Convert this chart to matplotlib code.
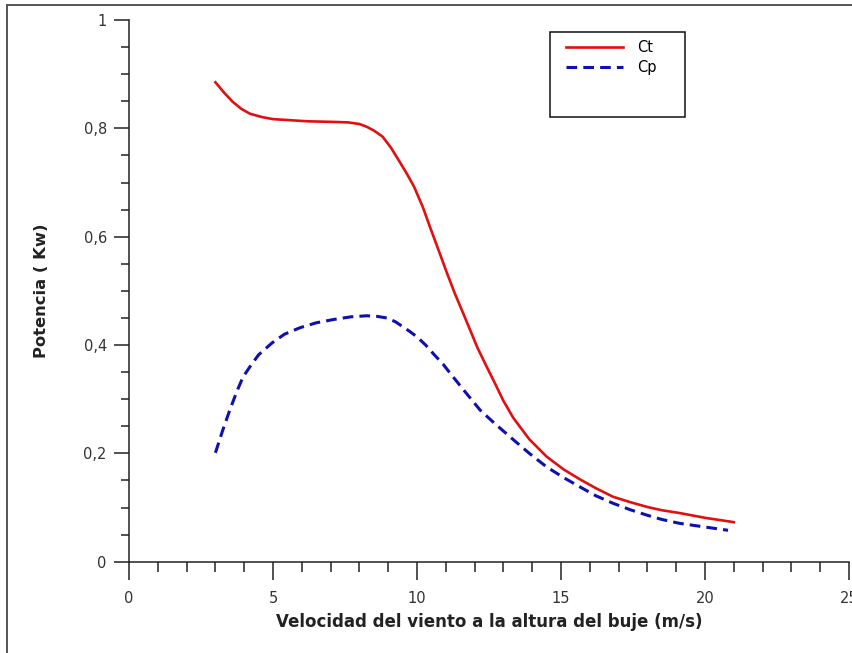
import matplotlib
matplotlib.use("Agg")
import matplotlib.pyplot as plt
from matplotlib.ticker import MultipleLocator, FuncFormatter
from matplotlib.patches import Rectangle
from matplotlib.lines import Line2D

plt.rcParams['font.family'] = ['DejaVu Sans']

# Data
ws_ct = [3.0, 3.3, 3.6, 3.9, 4.2, 4.6, 5.0, 5.6, 6.2, 7.0, 7.6, 8.0, 8.25, 8.5, 8.8,
         9.1, 9.4, 9.65, 9.9, 10.2, 10.45, 10.75, 11.04, 11.3, 11.6, 11.85, 12.1,
         12.4, 12.7, 13.0, 13.35, 13.9, 14.5, 15.1, 15.66, 16.2, 16.8, 17.4, 18.0,
         18.5, 19.1, 20.0, 20.5, 21.0]
ct = [0.885, 0.866, 0.849, 0.836, 0.827, 0.821, 0.817, 0.815, 0.813, 0.812, 0.811,
      0.808, 0.803, 0.796, 0.785, 0.764, 0.738, 0.716, 0.692, 0.655, 0.618, 0.575,
      0.533, 0.497, 0.459, 0.427, 0.395, 0.362, 0.330, 0.297, 0.265, 0.226, 0.194,
      0.170, 0.152, 0.136, 0.120, 0.110, 0.101, 0.095, 0.090, 0.081, 0.077, 0.073]

ws_cp = [3.0, 3.25, 3.5, 3.75, 3.96, 4.2, 4.5, 4.97, 5.4, 5.94, 6.5, 7.09, 7.7, 8.25,
         8.6, 8.95, 9.25, 9.5, 9.75, 10.0, 10.3, 10.6, 10.9, 11.15, 11.65, 12.19,
         12.7, 13.35, 13.9, 14.5, 15.1, 15.66, 16.2, 16.8, 17.4, 17.98, 18.5, 19.1,
         20.0, 20.8]
cp = [0.201, 0.242, 0.280, 0.315, 0.341, 0.360, 0.382, 0.404, 0.420, 0.432, 0.441,
      0.447, 0.452, 0.454, 0.453, 0.450, 0.443, 0.434, 0.425, 0.415, 0.400, 0.382,
      0.365, 0.348, 0.315, 0.280, 0.255, 0.225, 0.200, 0.175, 0.155, 0.138, 0.122,
      0.108, 0.096, 0.086, 0.078, 0.071, 0.064, 0.058]

x_label = "Velocidad del viento a la altura del buje (m/s)"
y_label = "Potencia ( Kw)"

W, H = 853, 653
fig = plt.figure(figsize=(W / 100, H / 100), dpi=100)
ax = fig.add_axes([129 / W, 1 - 561.7 / H, 720 / W, 541.7 / H])

ax.plot(ws_ct, ct, color="#e01010", lw=1.9, label="Ct")
ax.plot(ws_cp, cp, color="#1010b0", lw=2.2, dashes=(3.5, 2.0), label="Cp")

ax.set_xlim(0, 25)
ax.set_ylim(0, 1)
ax.xaxis.set_major_locator(MultipleLocator(5))
ax.xaxis.set_minor_locator(MultipleLocator(1))
ax.yaxis.set_major_locator(MultipleLocator(0.2))
ax.yaxis.set_minor_locator(MultipleLocator(0.05))
ax.yaxis.set_major_formatter(FuncFormatter(lambda v, p: ("%g" % round(v, 2)).replace(".", ",")))

for s in ["top", "right"]:
    ax.spines[s].set_visible(False)
for s in ["left", "bottom"]:
    ax.spines[s].set_linewidth(1.1)
    ax.spines[s].set_color("#222222")

ax.tick_params(axis="x", which="major", direction="out", length=13, width=1.1,
               color="#222222", labelsize=10.5, labelcolor="#333333", pad=8)
ax.tick_params(axis="x", which="minor", direction="out", length=7, width=1.1, color="#222222")
ax.tick_params(axis="y", which="major", direction="out", length=11, width=1.1,
               color="#222222", labelsize=10.5, labelcolor="#333333", pad=5)
ax.tick_params(axis="y", which="minor", direction="out", length=6, width=1.1, color="#222222")

ax.set_xlabel(x_label, fontsize=12, fontweight="bold", color="#222222", va="center")
ax.set_ylabel(y_label, fontsize=11.8, fontweight="bold", color="#222222", va="center")
ax.xaxis.set_label_coords(0.5, (561.7 - 622) / 541.7)
ax.yaxis.set_label_coords((42 - 129) / 720, 0.5)

# legend without its own frame, frame drawn as a box
leg = ax.legend(loc="upper left", bbox_to_anchor=(566 / W, 1 - 40 / H),
                bbox_transform=fig.transFigure, frameon=False, fontsize=10.5,
                handlelength=3.9, handletextpad=1.0, labelspacing=0.35,
                borderpad=0.0, borderaxespad=0.0)
fig.patches.append(Rectangle((550 / W, 1 - 117 / H), 135 / W, 85 / H,
                             transform=fig.transFigure, fill=False,
                             edgecolor="#111111", lw=1.1))

# outer frame (left and top edges)
fig.lines.append(Line2D([7.5 / W, 7.5 / W], [0, 1 - 4.5 / H], transform=fig.transFigure,
                        color="#555555", lw=1.4))
fig.lines.append(Line2D([7.5 / W, 1], [1 - 4.5 / H, 1 - 4.5 / H], transform=fig.transFigure,
                        color="#555555", lw=1.4))

fig.savefig("out.png", dpi=100)
